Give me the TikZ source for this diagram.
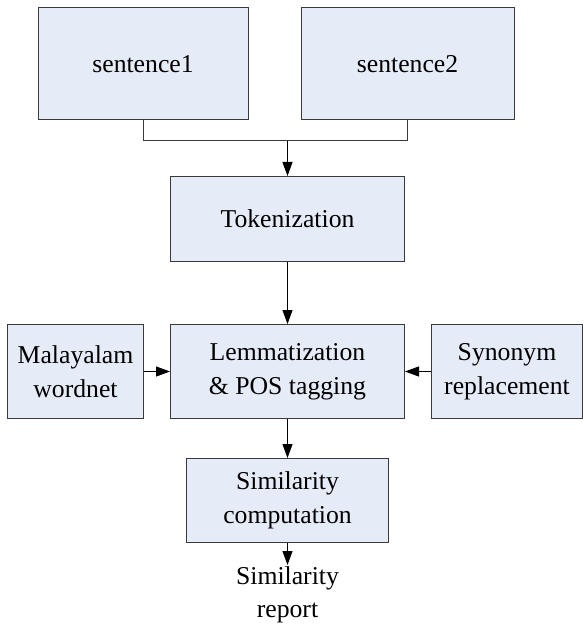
\documentclass[tikz,border=0pt]{standalone}
\usepackage{fontspec}
\setmainfont{Liberation Serif}
\usepackage{xcolor}
\usetikzlibrary{arrows.meta,positioning,calc}
\definecolor{boxbg}{HTML}{E6ECF7}
\definecolor{rule}{HTML}{3A3A3A}

\begin{document}
\begin{tikzpicture}[x=1pt,y=-1pt,
  box/.style={draw=rule,fill=boxbg,line width=1pt,inner sep=2pt,
              font=\fontsize{25.7}{34}\selectfont,align=center},
  arr/.style={-{Triangle[length=14pt,width=10pt]},draw=black,line width=1pt},
  lnk/.style={draw=rule,line width=1pt}
]
\useasboundingbox (0,0) rectangle (583,628);
\node[box,minimum width=210pt,minimum height=112pt] (s1) at (143,64) {sentence1};
\node[box,minimum width=213pt,minimum height=112pt,right=52pt of s1] (s2) {sentence2};
\node[box,minimum width=234pt,minimum height=85pt,anchor=north west] (tok) at (170,176) {Tokenization};
\node[box,minimum width=234pt,minimum height=94pt,below=62pt of tok] (lem) {Lemmatization\\\& POS tagging};
\node[box,minimum width=136pt,minimum height=94pt,left=26pt of lem] (mal) {Malayalam\\wordnet};
\node[box,minimum width=151pt,minimum height=94pt,right=26pt of lem] (syn) {Synonym\\replacement};
\node[box,minimum width=202pt,minimum height=84pt,below=39pt of lem] (sim) {Similarity\\computation};
\node[font=\fontsize{25.7}{33}\selectfont,align=center,inner sep=1pt,below=22pt of sim] (rep) {Similarity\\report};
\coordinate (j) at ($(tok.north)+(0,-35)$);
\draw[lnk] (s1.south) |- (j);
\draw[lnk] (s2.south) |- (j);
\draw[arr] (j) -- (tok.north);
\draw[arr] (tok) -- (lem);
\draw[arr] (mal) -- (lem);
\draw[arr] (syn) -- (lem);
\draw[arr] (lem) -- (sim);
\draw[arr] (sim) -- (rep);
\end{tikzpicture}
\end{document}
